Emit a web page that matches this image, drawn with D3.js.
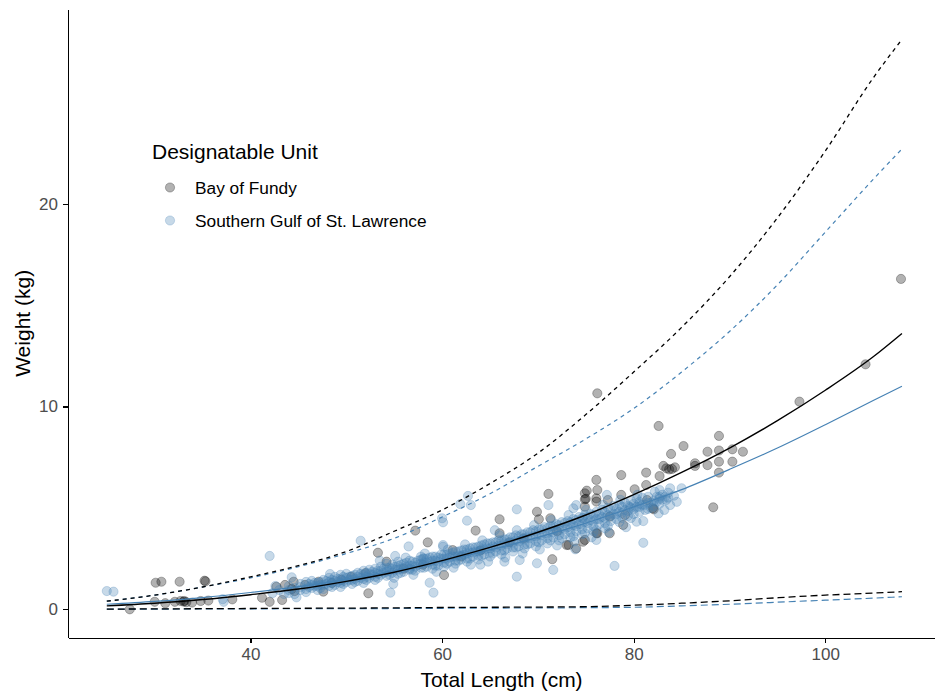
<!DOCTYPE html>
<html>
<head>
<meta charset="utf-8">
<title>Length-weight</title>
<script src="https://cdn.jsdelivr.net/npm/d3@7"></script>
<style>
  body { margin: 0; background: #fff; }
  svg text { font-family: "Liberation Sans", Arial, sans-serif; }
  .axis path, .axis line { stroke: #000; stroke-width: 1.1; shape-rendering: crispEdges; }
  .axis text { fill: #4d4d4d; font-size: 17px; }
</style>
</head>
<body>
<svg id="chart" width="935" height="696"></svg>
<script>
// tick values
var xTicks = [40, 60, 80, 100];
var yTicks = [0, 10, 20];

// fitted curves, every 5 cm
var fitLength = [25, 30, 35, 40, 45, 50, 55, 60, 65, 70, 75, 80, 85, 90, 95, 100, 105, 108];
var bofFit   = [0.17, 0.3, 0.48, 0.72, 1.0, 1.38, 1.83, 2.4, 3.05, 3.8, 4.65, 5.65, 6.75, 7.95, 9.3, 10.8, 12.45, 13.6];
var bofUpper = [0.4, 0.7, 1.1, 1.6, 2.15, 2.85, 3.85, 4.9, 6.2, 7.7, 9.6, 11.7, 13.9, 16.4, 19.3, 22.6, 26.2, 28.1];
var bofLower = [0.01, 0.02, 0.03, 0.04, 0.05, 0.06, 0.07, 0.09, 0.1, 0.11, 0.13, 0.2, 0.3, 0.42, 0.57, 0.7, 0.8, 0.87];
var sgslFit   = [0.25, 0.39, 0.58, 0.83, 1.12, 1.48, 1.9, 2.38, 2.93, 3.55, 4.25, 5.05, 5.9, 6.9, 7.95, 9.1, 10.3, 11.0];
var sgslUpper = [0.4, 0.7, 1.1, 1.55, 2.1, 2.75, 3.5, 4.55, 5.7, 7.05, 8.4, 9.9, 11.7, 13.7, 16.0, 18.6, 21.2, 22.7];
var sgslLower = [0.01, 0.01, 0.02, 0.02, 0.03, 0.03, 0.04, 0.05, 0.06, 0.07, 0.08, 0.1, 0.17, 0.25, 0.35, 0.45, 0.55, 0.62];

// Bay of Fundy fish [length cm, weight kg]
var bofPoints = [
  [27.4,0.0],[30.0,0.37],[30.1,1.31],[30.7,1.36],[31.1,0.3],[32.1,0.37],[32.6,1.36],[32.7,0.41],[33.0,0.38],[33.1,0.41],
  [33.3,0.35],[33.9,0.33],[34.8,0.41],[35.2,1.41],[35.3,1.38],[35.6,0.43],[38.1,0.49],[41.2,0.57],[42.0,0.37],[43.3,0.46],
  [42.7,1.11],[43.6,1.2],[44.3,1.0],[44.6,0.9],[44.5,1.36],[45.7,1.2],[47.1,1.36],[47.6,0.87],[48.5,1.3],[49.5,1.45],
  [50.5,1.6],[52.0,1.78],[52.3,0.79],[53.3,2.79],[54.2,2.35],[56.0,2.0],[57.2,3.88],[58.0,2.2],[58.5,3.3],[60.2,1.69],
  [61.1,2.92],[62.0,2.6],[63.5,3.88],[64.0,2.9],[66.0,4.44],[66.0,3.75],[67.0,3.3],[68.5,3.5],[69.9,4.81],[70.1,4.44],
  [71.1,5.69],[71.3,4.49],[71.5,2.47],[72.0,3.85],[73.2,3.17],[74.0,3.0],[74.9,3.42],[76.2,10.65],[76.1,6.38],[74.9,5.72],
  [74.9,5.42],[75.0,5.45],[76.1,5.47],[76.1,3.75],[75.1,5.85],[76.2,5.88],[76.1,5.31],[77.3,5.39],[78.7,5.64],[78.7,6.62],
  [80.1,5.92],[81.3,6.13],[81.3,6.74],[82.7,6.57],[83.1,7.07],[83.4,6.95],[83.7,6.9],[84.0,6.92],[84.3,7.0],[82.6,9.04],
  [85.2,8.05],[83.9,7.66],[86.4,7.2],[86.4,7.07],[87.7,7.77],[87.7,7.11],[88.9,8.55],[88.9,7.83],[88.9,7.28],[88.9,6.74],
  [90.3,7.89],[90.3,7.28],[91.4,7.77],[88.3,5.03],[82.0,4.98],[78.9,4.16],[77.5,3.75],[76.2,3.75],[74.7,3.33],[73.0,3.17],
  [77.5,4.57],[79.1,4.65],[74.9,5.06],[82.1,4.93],[81.4,5.39],[97.3,10.24],[104.2,12.08],[107.9,16.29]
];

// Southern Gulf of St. Lawrence fish [length cm, weight kg]
var sgslPoints = [
  [25.0,0.9],[25.7,0.87],[37.2,0.37],[37.1,0.5],[42.0,2.63],[42.6,1.15],[42.3,0.8],[43.0,0.95],[43.5,0.75],[44.3,1.58],
  [44.8,0.59],[48.3,1.74],[51.5,3.38],[55.1,2.63],[54.6,0.82],[54.9,1.25],[58.7,1.31],[59.1,0.82],[58.0,2.51],[60.1,3.17],
  [60.1,4.29],[62.6,4.37],[60.0,4.49],[61.9,5.19],[62.7,5.59],[63.0,5.14],[67.8,4.93],[71.1,5.14],[67.8,1.61],[71.6,1.94],
  [69.9,2.27],[68.1,2.43],[60.1,3.09],[76.1,3.42],[74.7,4.49],[81.0,3.28],[78.0,2.14],[73.9,2.96],[80.3,4.32],[82.6,4.73],
  [83.8,5.97],[85.0,5.97],[81.5,5.55],[82.7,5.88],[79.6,5.06],[73.7,4.98],[83.4,5.39],[80.6,5.2],[74.0,5.14],[77.2,5.64],
  [83.8,5.14],[82.7,5.55],[56.5,3.1],[53.5,2.4],[65.5,3.9],[66.5,2.35],[64.0,2.2],
  [44.0,0.95],[44.0,1.15],[44.0,0.8],[44.6,1.05],[44.6,0.75],[45.2,1.25],[45.2,0.95],[45.2,1.1],[45.8,1.0],[45.8,1.35],
  [45.8,0.85],[46.4,1.2],[46.4,1.05],[46.4,1.4],[47.0,1.3],[47.0,0.95],[47.0,1.15],[47.6,1.45],[47.6,1.2],[47.6,1.0],
  [48.2,1.35],[48.2,1.55],[48.2,1.15],[48.8,1.4],[48.8,1.2],[48.8,1.6],[49.4,1.5],[49.4,1.3],[49.4,1.7],[49.4,1.1],
  [50.0,1.55],[50.0,1.35],[50.0,1.75],[50.6,1.45],[50.6,1.65],[50.6,1.25],[51.2,1.6],[51.2,1.8],[51.2,1.4],[51.8,1.7],
  [51.8,1.5],[51.8,1.9],[51.8,1.3],[52.4,1.75],[52.4,1.55],[52.4,1.95],[53.0,1.8],[53.0,1.6],[53.0,2.0],[53.0,1.45],
  [53.6,1.9],[53.6,1.7],[53.6,2.1],[54.2,1.85],[54.2,2.05],[54.2,1.65],[54.2,2.25],[54.8,2.0],[54.8,1.8],[54.8,2.2],
  [55.4,1.95],[55.4,2.15],[55.4,1.75],[55.4,2.35],[56.0,2.05],[56.0,2.25],[56.0,1.85],[56.6,2.15],[56.6,1.95],[56.6,2.4],
  [56.6,2.0],[57.2,2.1],[57.2,2.3],[57.2,1.9],[57.8,2.25],[57.8,2.45],[57.8,2.05],[57.8,2.6],[58.4,2.3],[58.4,2.1],
  [58.4,2.5],[59.0,2.4],[59.0,2.2],[59.0,2.6],[59.0,2.0],[59.6,2.35],[59.6,2.55],[59.6,2.15],[60.2,2.5],[60.2,2.3],
  [60.2,2.7],[60.2,2.1],[60.8,2.55],[60.8,2.35],[60.8,2.75],[61.4,2.6],[61.4,2.4],[61.4,2.85],[61.4,2.25],[62.0,2.65],
  [62.0,2.45],[62.0,2.9],[62.6,2.75],[62.6,2.5],[62.6,2.95],[62.6,2.35],[63.2,2.8],[63.2,2.6],[63.2,3.05],[63.8,2.85],
  [63.8,2.65],[63.8,3.1],[63.8,2.45],[64.4,2.95],[64.4,2.7],[64.4,3.2],[65.0,3.0],[65.0,2.8],[65.0,3.25],[65.0,2.6],
  [65.6,3.05],[65.6,2.85],[65.6,3.3],[66.2,3.15],[66.2,2.9],[66.2,3.4],[66.2,2.7],[66.8,3.2],[66.8,3.0],[66.8,3.45],
  [67.4,3.3],[67.4,3.05],[67.4,3.55],[67.4,2.85],[68.0,3.35],[68.0,3.1],[68.0,3.6],[68.6,3.45],[68.6,3.2],[68.6,3.7],
  [68.6,3.0],[69.2,3.5],[69.2,3.25],[69.2,3.8],[69.8,3.6],[69.8,3.35],[69.8,3.85],[69.8,3.1],[70.4,3.65],[70.4,3.4],
  [70.4,3.95],[71.0,3.75],[71.0,3.5],[71.0,4.0],[71.0,3.25],[71.6,3.8],[71.6,3.55],[71.6,4.1],[72.2,3.9],[72.2,3.65],
  [72.2,4.15],[72.2,3.4],[72.8,3.95],[72.8,3.7],[72.8,4.25],[73.4,4.05],[73.4,3.8],[73.4,4.3],[73.4,3.55],[74.0,4.1],
  [74.0,3.85],[74.0,4.4],[74.6,4.2],[74.6,3.95],[74.6,4.5],[74.6,3.7],[75.2,4.25],[75.2,4.0],[75.2,4.55],[75.8,4.35],
  [75.8,4.1],[75.8,4.65],[75.8,3.85],[76.4,4.45],[76.4,4.2],[76.4,4.7],[77.0,4.5],[77.0,4.25],[77.0,4.8],[77.0,4.0],
  [77.6,4.6],[77.6,4.35],[77.6,4.9],[78.2,4.7],[78.2,4.45],[78.2,4.95],[78.8,4.75],[78.8,4.5],[78.8,5.05],[79.4,4.85],
  [79.4,4.6],[79.4,5.1],[80.0,4.95],[80.0,4.7],[80.0,5.2],[80.6,5.05],[80.6,4.8],[80.6,5.3],[81.2,5.15],[81.2,4.9],
  [81.8,5.25],[81.8,5.0],[82.4,5.3],[82.4,5.55],[83.0,5.4],[83.0,5.65],[83.6,5.5],[83.6,5.75],[84.2,5.6],
  [46.1,1.1],[46.1,1.25],[46.7,1.15],[46.7,1.3],[47.3,1.2],[47.3,1.35],[47.3,1.05],[47.9,1.25],[47.9,1.4],[48.5,1.3],
  [48.5,1.45],[48.5,1.1],[49.1,1.35],[49.1,1.5],[49.7,1.4],[49.7,1.6],[49.7,1.25],[50.3,1.45],[50.3,1.6],[50.9,1.5],
  [50.9,1.7],[50.9,1.35],[51.5,1.55],[51.5,1.75],[52.1,1.6],[52.1,1.8],[52.1,1.45],[52.7,1.7],[52.7,1.85],[53.3,1.75],
  [53.3,1.9],[53.3,1.55],[53.9,1.8],[53.9,2.0],[54.5,1.9],[54.5,2.05],[54.5,1.7],[55.1,1.95],[55.1,2.1],[55.7,2.0],
  [55.7,2.2],[55.7,1.8],[56.3,2.1],[56.3,2.3],[56.9,2.15],[56.9,2.35],[56.9,1.95],[57.5,2.2],[57.5,2.4],[58.1,2.3],
  [58.1,2.5],[58.1,2.05],[58.7,2.35],[58.7,2.55],[59.3,2.4],[59.3,2.6],[59.3,2.15],[59.9,2.5],[59.9,2.7],[60.5,2.5],
  [60.5,2.7],[60.5,2.25],[61.1,2.6],[61.1,2.8],[61.7,2.65],[61.7,2.85],[61.7,2.4],[62.3,2.7],[62.3,2.95],[62.9,2.8],
  [62.9,3.0],[62.9,2.5],[63.5,2.85],[63.5,3.05],[64.1,2.95],[64.1,3.15],[64.1,2.65],[64.7,3.0],[64.7,3.25],[65.3,3.1],
  [65.3,3.3],[65.3,2.75],[65.9,3.15],[65.9,3.4],[66.5,3.25],[66.5,3.45],[66.5,2.9],[67.1,3.3],[67.1,3.55],[67.7,3.4],
  [67.7,3.65],[67.7,3.05],[68.3,3.45],[68.3,3.7],[68.9,3.55],[68.9,3.8],[68.9,3.2],[69.5,3.6],[69.5,3.9],[70.1,3.7],
  [70.1,3.95],[70.1,3.3],[70.7,3.75],[70.7,4.05],[71.3,3.85],[71.3,4.1],[71.3,3.4],[71.9,3.9],[71.9,4.2],[72.5,4.0],
  [72.5,4.3],[72.5,3.5],[73.1,4.05],[73.1,4.35],[73.7,4.15],[73.7,4.45],[73.7,3.6],[74.3,4.2],[74.3,4.55],[74.9,4.3],
  [74.9,4.65],[74.9,3.75],[75.5,4.4],[75.5,4.7],[76.1,4.45],[76.1,4.8],[76.1,3.9],[76.7,4.55],[76.7,4.9],[77.3,4.65],
  [77.3,5.0],[77.3,4.1],[77.9,4.7],[77.9,5.1],[78.5,4.8],[78.5,5.15],[78.5,4.3],[79.1,4.9],[79.1,5.25],[79.7,5.0],
  [79.7,5.35],[79.7,4.5],[80.3,5.05],[80.3,5.45],[80.9,5.15],[80.9,5.5],[81.5,5.25],[81.5,4.95],[82.1,5.35],[82.1,5.1],
  [82.7,5.45],[82.7,5.2],[83.3,5.55],
  [55.0,1.55],[56.2,2.55],[57.0,1.7],[58.2,2.75],[59.4,1.85],[60.6,2.95],[61.2,2.05],[62.4,3.2],[63.0,2.2],[64.2,3.4],
  [64.8,2.35],[66.0,3.65],[66.6,2.55],[67.8,3.9],[68.4,2.75],[69.6,4.15],[70.2,2.95],[71.4,4.4],[72.0,3.15],[73.2,4.65],
  [73.8,3.35],[75.0,4.9],[75.6,3.55],[76.8,5.15],[77.4,3.8],[78.6,5.4],[79.2,4.05],[80.4,5.65],[81.0,4.35],[82.2,5.8],
  [83.2,4.9],[84.5,5.3]
];

var seriesNames = ["Bay of Fundy", "Southern Gulf of St. Lawrence"];
var seriesColors = ["#000000", "steelblue"];

var margin = {top: 9, right: 0, bottom: 58.3, left: 68},
    width = 935 - margin.left - margin.right,
    height = 696 - margin.top - margin.bottom;

var x = d3.scaleLinear().domain([20.95, 111.45]).range([0, width]);
var y = d3.scaleLinear().domain([-1.4, 29.6]).range([height, 0]);

var svg = d3.select("#chart");
var main = svg.append("g")
  .attr("transform", "translate(" + margin.left + "," + margin.top + ")");

// points: Bay of Fundy first, SGSL on top
function drawPoints(data, colour) {
  main.append("g").selectAll("circle")
    .data(data)
    .enter().append("circle")
    .attr("cx", function(d) { return x(d[0]); })
    .attr("cy", function(d) { return y(d[1]); })
    .attr("r", 4.6)
    .attr("fill", colour)
    .attr("fill-opacity", 0.3)
    .attr("stroke", colour)
    .attr("stroke-opacity", 0.3)
    .attr("stroke-width", 0.9);
}
drawPoints(bofPoints, seriesColors[0]);
drawPoints(sgslPoints, seriesColors[1]);

var line = d3.line()
  .x(function(d) { return x(d[0]); })
  .y(function(d) { return y(d[1]); })
  .curve(d3.curveMonotoneX);

function drawLine(values, colour, w, dash) {
  var pts = fitLength.map(function(l, i) { return [l, values[i]]; });
  main.append("path")
    .datum(pts)
    .attr("d", line)
    .attr("fill", "none")
    .attr("stroke", colour)
    .attr("stroke-width", w)
    .attr("stroke-dasharray", dash);
}
drawLine(sgslLower, seriesColors[1], 1.2, "7,4");
drawLine(sgslUpper, seriesColors[1], 1.2, "4,4");
drawLine(sgslFit, seriesColors[1], 1.2, null);
drawLine(bofLower, seriesColors[0], 1.3, "7,4");
drawLine(bofUpper, seriesColors[0], 1.3, "4,4");
drawLine(bofFit, seriesColors[0], 1.4, null);

// axes
main.append("g")
  .attr("class", "axis")
  .attr("transform", "translate(0," + height + ")")
  .call(d3.axisBottom(x).tickValues(xTicks).tickSize(5).tickSizeOuter(0).tickPadding(5));

main.append("g")
  .attr("class", "axis")
  .call(d3.axisLeft(y).tickValues(yTicks).tickSize(5).tickSizeOuter(0).tickPadding(5));

main.selectAll(".axis").attr("font-family", null).attr("font-size", null);

// axis titles
svg.append("text")
  .attr("x", margin.left + width / 2)
  .attr("y", 687)
  .attr("text-anchor", "middle")
  .attr("font-size", "21px")
  .attr("fill", "#000")
  .text("Total Length (cm)");

svg.append("text")
  .attr("transform", "translate(30," + (margin.top + height / 2) + ") rotate(-90)")
  .attr("text-anchor", "middle")
  .attr("font-size", "21px")
  .attr("fill", "#000")
  .text("Weight (kg)");

// legend
var legend = svg.append("g").attr("transform", "translate(152,0)");
legend.append("text")
  .attr("x", 0)
  .attr("y", 159)
  .attr("font-size", "21px")
  .attr("fill", "#000")
  .text("Designatable Unit");

var keys = legend.selectAll(".key")
  .data(seriesNames)
  .enter().append("g")
  .attr("class", "key")
  .attr("transform", function(d, i) { return "translate(0," + (187.5 + i * 33) + ")"; });

keys.append("circle")
  .attr("cx", 18)
  .attr("cy", 0)
  .attr("r", 4.6)
  .attr("fill", function(d, i) { return seriesColors[i]; })
  .attr("fill-opacity", 0.3)
  .attr("stroke", function(d, i) { return seriesColors[i]; })
  .attr("stroke-opacity", 0.3)
  .attr("stroke-width", 0.9);

keys.append("text")
  .attr("x", 43)
  .attr("y", 6)
  .attr("font-size", "17.3px")
  .attr("fill", "#000")
  .text(function(d) { return d; });
</script>
</body>
</html>
